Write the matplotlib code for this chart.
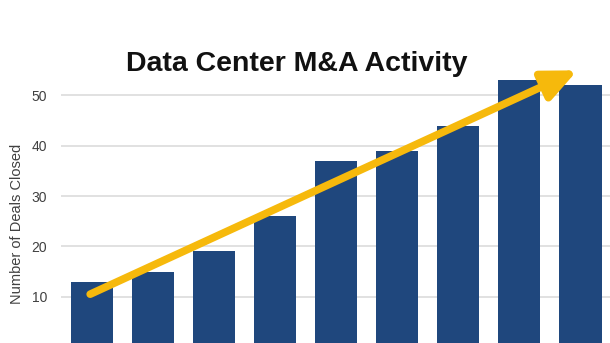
import matplotlib
matplotlib.use("Agg")
import matplotlib.pyplot as plt

# Deals closed per period
periods = ["P1", "P2", "P3", "P4", "P5", "P6", "P7", "P8", "P9"]
deals = [13, 15, 19, 26, 37, 39, 44, 53, 52]
y_ticks = [0, 10, 20, 30, 40, 50]

# Trend arrow endpoints (bar index, deal count)
trend_start = (-0.03, 10.5)
trend_end = (7.95, 55.0)

BAR_COLOR = "#1F477D"
ARROW_COLOR = "#F6B90C"
GRID_COLOR = "#DCDCDC"
TEXT_COLOR = "#404040"

plt.rcParams["font.family"] = ["Liberation Sans", "DejaVu Sans"]

fig = plt.figure(figsize=(6.10, 3.43), dpi=100)
ax = fig.add_axes([0.1008, -0.0117, 0.9008, 0.8213])

x = list(range(len(periods)))
ax.bar(x, deals, width=0.69, color=BAR_COLOR, zorder=2)

ax.set_xlim(-0.5, len(periods) - 0.5)
ax.set_ylim(0, 56)
ax.set_yticks(y_ticks)
ax.set_yticklabels([str(t) for t in y_ticks], fontsize=10, color=TEXT_COLOR)
ax.set_xticks([])
ax.tick_params(axis="y", length=0, pad=10.5)
ax.grid(axis="y", color=GRID_COLOR, linewidth=1.2, zorder=0)
for s in ax.spines.values():
    s.set_visible(False)

ax.set_ylabel("Number of Deals Closed", fontsize=10.5, color=TEXT_COLOR)
ax.yaxis.set_label_coords(-0.068, 0.437)

ax.annotate(
    "", xy=trend_end, xytext=trend_start,
    arrowprops=dict(arrowstyle="-|>,head_length=2.05,head_width=0.92",
                    color=ARROW_COLOR, lw=5.5, capstyle="round",
                    shrinkA=0, shrinkB=0),
    zorder=3, annotation_clip=False,
)

fig.text(297 / 610, 1 - 64 / 343, "Data Center M&A Activity",
         ha="center", va="center", fontsize=20.5, fontweight="bold", color="#111111")

fig.savefig("out.png", dpi=100)
